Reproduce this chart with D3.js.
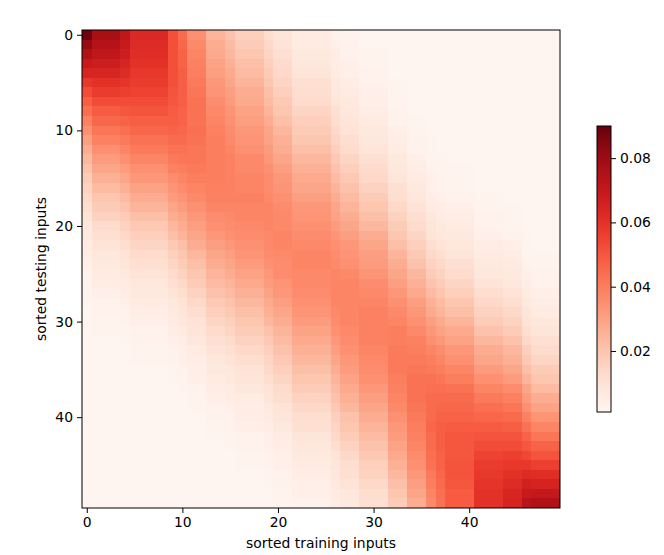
<!DOCTYPE html>
<html>
<head>
<meta charset="utf-8">
<script src="https://cdn.jsdelivr.net/npm/d3@7"></script>
<style>
  body { margin: 0; background: #fff; }
  svg text { font-family: "DejaVu Sans", sans-serif; }
</style>
</head>
<body>
<svg></svg>
<script>
// Attention weights, rows = sorted testing inputs, columns = sorted training inputs
// (values in units of 0.001)
const weights = [
  [88, 77,77,77, 71, 63,63,63,63, 52, 45, 35,35, 25,25, 21, 17,17,17, 12, 9,9, 6,6,6,6, 3, 2,2, 1,1,1, 1,1, 1,1, 1, 1, 1,1,1, 1,1,1, 1,1, 1, 1,1,1],
  [81, 74,74,74, 69, 62,62,62,62, 52, 46, 37,37, 27,27, 23, 18,18,18, 14, 10,10, 6,6,6,6, 4, 3,3, 1,1,1, 1,1, 1,1, 1, 1, 1,1,1, 1,1,1, 1,1, 1, 1,1,1],
  [75, 71,71,71, 67, 61,61,61,61, 52, 47, 38,38, 28,28, 24, 20,20,20, 15, 11,11, 7,7,7,7, 5, 3,3, 2,2,2, 1,1, 1,1, 1, 1, 1,1,1, 1,1,1, 1,1, 1, 1,1,1],
  [69, 67,67,67, 64, 60,60,60,60, 52, 47, 39,39, 30,30, 26, 22,22,22, 17, 13,13, 8,8,8,8, 5, 4,4, 2,2,2, 1,1, 1,1, 1, 1, 1,1,1, 1,1,1, 1,1, 1, 1,1,1],
  [64, 64,64,64, 62, 58,58,58,58, 52, 48, 40,40, 31,31, 28, 23,23,23, 18, 14,14, 9,9,9,9, 6, 4,4, 3,3,3, 1,1, 1,1, 1, 1, 1,1,1, 1,1,1, 1,1, 1, 1,1,1],
  [58, 60,60,60, 59, 57,57,57,57, 52, 48, 41,41, 33,33, 29, 25,25,25, 20, 15,15, 11,11,11,11, 7, 5,5, 3,3,3, 2,2, 1,1, 1, 1, 1,1,1, 1,1,1, 1,1, 1, 1,1,1],
  [53, 57,57,57, 56, 55,55,55,55, 51, 48, 42,42, 34,34, 31, 27,27,27, 22, 17,17, 12,12,12,12, 8, 6,6, 4,4,4, 2,2, 1,1, 1, 1, 1,1,1, 1,1,1, 1,1, 1, 1,1,1],
  [48, 53,53,53, 53, 53,53,53,53, 50, 48, 43,43, 36,36, 32, 28,28,28, 23, 19,19, 13,13,13,13, 9, 7,7, 4,4,4, 2,2, 1,1, 1, 1, 1,1,1, 1,1,1, 1,1, 1, 1,1,1],
  [44, 49,49,49, 50, 51,51,51,51, 49, 47, 43,43, 37,37, 34, 30,30,30, 25, 20,20, 15,15,15,15, 11, 8,8, 5,5,5, 3,3, 1,1, 1, 1, 1,1,1, 1,1,1, 1,1, 1, 1,1,1],
  [39, 46,46,46, 47, 48,48,48,48, 48, 47, 43,43, 38,38, 35, 31,31,31, 27, 22,22, 17,17,17,17, 12, 9,9, 6,6,6, 3,3, 2,2, 1, 1, 1,1,1, 1,1,1, 1,1, 1, 1,1,1],
  [35, 42,42,42, 44, 46,46,46,46, 47, 46, 44,44, 39,39, 36, 33,33,33, 29, 24,24, 18,18,18,18, 14, 10,10, 7,7,7, 4,4, 2,2, 1, 1, 1,1,1, 1,1,1, 1,1, 1, 1,1,1],
  [31, 39,39,39, 41, 43,43,43,43, 45, 45, 43,43, 40,40, 37, 34,34,34, 30, 26,26, 20,20,20,20, 15, 12,12, 8,8,8, 5,5, 3,3, 2, 1, 1,1,1, 1,1,1, 1,1, 1, 1,1,1],
  [27, 35,35,35, 38, 41,41,41,41, 43, 43, 42,42, 40,40, 38, 35,35,35, 32, 27,27, 22,22,22,22, 17, 13,13, 9,9,9, 6,6, 3,3, 2, 1, 1,1,1, 1,1,1, 1,1, 1, 1,1,1],
  [24, 32,32,32, 35, 38,38,38,38, 41, 42, 42,42, 40,40, 39, 37,37,37, 33, 29,29, 24,24,24,24, 19, 15,15, 11,11,11, 7,7, 4,4, 2, 2, 1,1,1, 1,1,1, 1,1, 1, 1,1,1],
  [21, 29,29,29, 32, 35,35,35,35, 39, 40, 41,41, 40,40, 39, 37,37,37, 35, 31,31, 26,26,26,26, 21, 17,17, 13,13,13, 8,8, 5,5, 3, 2, 2,2,2, 1,1,1, 1,1, 1, 1,1,1],
  [18, 26,26,26, 29, 33,33,33,33, 36, 38, 40,40, 40,40, 39, 38,38,38, 36, 33,33, 28,28,28,28, 23, 19,19, 14,14,14, 9,9, 6,6, 4, 3, 2,2,2, 1,1,1, 1,1, 1, 1,1,1],
  [16, 23,23,23, 26, 30,30,30,30, 34, 36, 38,38, 39,39, 39, 38,38,38, 36, 34,34, 29,29,29,29, 25, 21,21, 16,16,16, 11,11, 7,7, 4, 3, 2,2,2, 1,1,1, 1,1, 1, 1,1,1],
  [14, 20,20,20, 23, 27,27,27,27, 32, 34, 37,37, 39,39, 39, 39,39,39, 37, 35,35, 31,31,31,31, 27, 23,23, 18,18,18, 12,12, 8,8, 5, 4, 3,3,3, 2,2,2, 1,1, 1, 1,1,1],
  [12, 18,18,18, 21, 25,25,25,25, 29, 32, 35,35, 38,38, 38, 38,38,38, 38, 36,36, 33,33,33,33, 29, 25,25, 20,20,20, 14,14, 10,10, 6, 5, 4,4,4, 2,2,2, 2,2, 1, 1,1,1],
  [10, 16,16,16, 18, 22,22,22,22, 27, 29, 33,33, 36,36, 37, 38,38,38, 38, 37,37, 34,34,34,34, 30, 27,27, 22,22,22, 16,16, 11,11, 8, 6, 5,5,5, 3,3,3, 2,2, 1, 1,1,1],
  [8, 13,13,13, 16, 19,19,19,19, 24, 27, 31,31, 35,35, 36, 37,37,37, 38, 37,37, 35,35,35,35, 32, 29,29, 24,24,24, 18,18, 13,13, 9, 7, 6,6,6, 3,3,3, 2,2, 1, 1,1,1],
  [7, 11,11,11, 14, 17,17,17,17, 22, 25, 29,29, 33,33, 35, 36,36,36, 37, 38,38, 36,36,36,36, 34, 31,31, 27,27,27, 20,20, 15,15, 10, 8, 7,7,7, 4,4,4, 3,3, 2, 1,1,1],
  [6, 10,10,10, 12, 15,15,15,15, 19, 22, 27,27, 31,31, 33, 35,35,35, 37, 38,38, 37,37,37,37, 35, 33,33, 29,29,29, 22,22, 17,17, 12, 10, 8,8,8, 5,5,5, 4,4, 2, 1,1,1],
  [5, 8,8,8, 10, 13,13,13,13, 17, 20, 24,24, 29,29, 31, 34,34,34, 36, 37,37, 38,38,38,38, 36, 34,34, 31,31,31, 25,25, 19,19, 14, 12, 9,9,9, 6,6,6, 5,5, 2, 2,2,2],
  [4, 7,7,7, 9, 11,11,11,11, 15, 18, 22,22, 27,27, 29, 32,32,32, 35, 36,36, 38,38,38,38, 37, 35,35, 32,32,32, 27,27, 21,21, 16, 14, 11,11,11, 7,7,7, 6,6, 3, 2,2,2],
  [3, 6,6,6, 7, 10,10,10,10, 13, 16, 20,20, 25,25, 27, 30,30,30, 33, 36,36, 37,37,37,37, 38, 37,37, 34,34,34, 29,29, 24,24, 18, 16, 13,13,13, 8,8,8, 7,7, 4, 3,3,3],
  [2, 5,5,5, 6, 8,8,8,8, 11, 14, 18,18, 23,23, 25, 28,28,28, 32, 34,34, 37,37,37,37, 38, 38,38, 36,36,36, 31,31, 26,26, 21, 18, 15,15,15, 10,10,10, 8,8, 5, 3,3,3],
  [2, 4,4,4, 5, 7,7,7,7, 10, 12, 16,16, 21,21, 23, 26,26,26, 30, 33,33, 36,36,36,36, 38, 38,38, 37,37,37, 33,33, 28,28, 23, 20, 17,17,17, 12,12,12, 10,10, 6, 4,4,4],
  [2, 3,3,3, 4, 6,6,6,6, 8, 10, 14,14, 19,19, 21, 24,24,24, 28, 31,31, 35,35,35,35, 38, 38,38, 38,38,38, 35,35, 31,31, 26, 23, 20,20,20, 14,14,14, 12,12, 7, 5,5,5],
  [1, 3,3,3, 3, 5,5,5,5, 7, 9, 12,12, 17,17, 19, 22,22,22, 26, 29,29, 34,34,34,34, 37, 38,38, 39,39,39, 37,37, 33,33, 28, 25, 22,22,22, 16,16,16, 14,14, 9, 6,6,6],
  [1, 2,2,2, 3, 4,4,4,4, 6, 8, 10,10, 15,15, 17, 20,20,20, 24, 27,27, 32,32,32,32, 36, 38,38, 39,39,39, 38,38, 35,35, 31, 28, 25,25,25, 18,18,18, 16,16, 10, 8,8,8],
  [1, 2,2,2, 2, 3,3,3,3, 5, 6, 9,9, 13,13, 15, 18,18,18, 21, 25,25, 30,30,30,30, 35, 37,37, 39,39,39, 40,40, 37,37, 33, 30, 28,28,28, 21,21,21, 18,18, 12, 9,9,9],
  [1, 1,1,1, 2, 3,3,3,3, 4, 5, 8,8, 11,11, 13, 16,16,16, 19, 23,23, 28,28,28,28, 33, 36,36, 39,39,39, 40,40, 39,39, 35, 33, 30,30,30, 24,24,24, 21,21, 14, 11,11,11],
  [1, 1,1,1, 1, 2,2,2,2, 3, 4, 6,6, 10,10, 11, 14,14,14, 17, 21,21, 26,26,26,26, 31, 35,35, 38,38,38, 41,41, 40,40, 38, 36, 33,33,33, 27,27,27, 24,24, 17, 13,13,13],
  [1, 1,1,1, 1, 2,2,2,2, 3, 4, 5,5, 8,8, 10, 12,12,12, 15, 19,19, 24,24,24,24, 29, 33,33, 37,37,37, 41,41, 41,41, 40, 38, 35,35,35, 29,29,29, 26,26, 19, 15,15,15],
  [1, 1,1,1, 1, 1,1,1,1, 2, 3, 4,4, 7,7, 8, 10,10,10, 14, 17,17, 22,22,22,22, 27, 32,32, 36,36,36, 41,41, 42,42, 41, 40, 38,38,38, 32,32,32, 29,29, 22, 18,18,18],
  [1, 1,1,1, 1, 1,1,1,1, 2, 2, 4,4, 6,6, 7, 9,9,9, 12, 15,15, 20,20,20,20, 25, 30,30, 35,35,35, 40,40, 43,43, 43, 42, 40,40,40, 35,35,35, 32,32, 25, 20,20,20],
  [1, 1,1,1, 1, 1,1,1,1, 1, 2, 3,3, 5,5, 6, 8,8,8, 10, 13,13, 18,18,18,18, 23, 28,28, 33,33,33, 39,39, 43,43, 44, 44, 43,43,43, 38,38,38, 36,36, 29, 23,23,23],
  [1, 1,1,1, 1, 1,1,1,1, 1, 1, 2,2, 4,4, 5, 6,6,6, 9, 12,12, 16,16,16,16, 21, 26,26, 31,31,31, 38,38, 43,43, 45, 45, 45,45,45, 41,41,41, 39,39, 32, 27,27,27],
  [1, 1,1,1, 1, 1,1,1,1, 1, 1, 2,2, 3,3, 4, 5,5,5, 7, 10,10, 14,14,14,14, 19, 24,24, 29,29,29, 37,37, 42,42, 45, 46, 46,46,46, 44,44,44, 42,42, 35, 30,30,30],
  [1, 1,1,1, 1, 1,1,1,1, 1, 1, 1,1, 3,3, 3, 5,5,5, 6, 9,9, 12,12,12,12, 17, 21,21, 27,27,27, 35,35, 41,41, 45, 47, 47,47,47, 46,46,46, 45,45, 39, 34,34,34],
  [1, 1,1,1, 1, 1,1,1,1, 1, 1, 1,1, 2,2, 3, 4,4,4, 5, 7,7, 11,11,11,11, 15, 20,20, 25,25,25, 33,33, 40,40, 46, 48, 49,49,49, 49,49,49, 48,48, 43, 38,38,38],
  [1, 1,1,1, 1, 1,1,1,1, 1, 1, 1,1, 2,2, 2, 3,3,3, 4, 6,6, 9,9,9,9, 14, 18,18, 23,23,23, 32,32, 39,39, 45, 48, 50,50,50, 51,51,51, 51,51, 47, 42,42,42],
  [1, 1,1,1, 1, 1,1,1,1, 1, 1, 1,1, 1,1, 2, 3,3,3, 4, 5,5, 8,8,8,8, 12, 16,16, 21,21,21, 30,30, 38,38, 45, 48, 50,50,50, 53,53,53, 53,53, 50, 47,47,47],
  [1, 1,1,1, 1, 1,1,1,1, 1, 1, 1,1, 1,1, 1, 2,2,2, 3, 4,4, 7,7,7,7, 10, 14,14, 19,19,19, 28,28, 36,36, 44, 47, 50,50,50, 55,55,55, 56,56, 54, 51,51,51],
  [1, 1,1,1, 1, 1,1,1,1, 1, 1, 1,1, 1,1, 1, 2,2,2, 3, 4,4, 6,6,6,6, 9, 12,12, 17,17,17, 26,26, 35,35, 43, 47, 51,51,51, 57,57,57, 58,58, 58, 56,56,56],
  [1, 1,1,1, 1, 1,1,1,1, 1, 1, 1,1, 1,1, 1, 1,1,1, 2, 3,3, 5,5,5,5, 8, 11,11, 16,16,16, 24,24, 33,33, 41, 46, 51,51,51, 58,58,58, 60,60, 62, 61,61,61],
  [1, 1,1,1, 1, 1,1,1,1, 1, 1, 1,1, 1,1, 1, 1,1,1, 2, 3,3, 4,4,4,4, 7, 10,10, 14,14,14, 22,22, 31,31, 40, 45, 50,50,50, 59,59,59, 62,62, 66, 65,65,65],
  [1, 1,1,1, 1, 1,1,1,1, 1, 1, 1,1, 1,1, 1, 1,1,1, 1, 2,2, 4,4,4,4, 6, 8,8, 12,12,12, 20,20, 29,29, 38, 44, 49,49,49, 60,60,60, 64,64, 69, 70,70,70],
  [1, 1,1,1, 1, 1,1,1,1, 1, 1, 1,1, 1,1, 1, 1,1,1, 1, 2,2, 3,3,3,3, 5, 7,7, 11,11,11, 18,18, 27,27, 37, 43, 49,49,49, 60,60,60, 65,65, 73, 75,75,75]
];

// Tick values and labels
const colTicks = [0, 10, 20, 30, 40];
const rowTicks = [0, 10, 20, 30, 40];
const colorTicks = [0.02, 0.04, 0.06, 0.08];
const colorDomain = [0.001, 0.090];
const xLabel = "sorted training inputs";
const yLabel = "sorted testing inputs";

// Set dimensions of the figure
const svgWidth = 664;
const svgHeight = 555;
const plot = { left: 82, top: 30, size: 478 };
const bar = { left: 597, top: 126, width: 14, height: 286 };
const fontSize = "13.9px";

const svg = d3.select("svg")
    .attr("width", svgWidth)
    .attr("height", svgHeight);

const nRows = weights.length;
const nCols = weights[0].length;

// Scales: cell centres sit on integer positions like imshow
const x = d3.scaleLinear().domain([-0.5, nCols - 0.5]).range([plot.left, plot.left + plot.size]);
const y = d3.scaleLinear().domain([-0.5, nRows - 0.5]).range([plot.top, plot.top + plot.size]);
const color = d3.scaleSequential(d3.interpolateReds).domain(colorDomain).clamp(true);

// Flatten the matrix into cells
const cells = [];
weights.forEach((row, i) => row.forEach((v, j) => cells.push({ i, j, value: v / 1000 })));

svg.append("g")
    .selectAll("rect")
    .data(cells)
    .enter()
    .append("rect")
    .attr("x", d => x(d.j - 0.5))
    .attr("y", d => y(d.i - 0.5))
    .attr("width", x(1) - x(0) + 0.3)
    .attr("height", y(1) - y(0) + 0.3)
    .attr("shape-rendering", "crispEdges")
    .style("fill", d => color(d.value));

// Frame around the image
svg.append("rect")
    .attr("x", plot.left)
    .attr("y", plot.top)
    .attr("width", plot.size)
    .attr("height", plot.size)
    .style("fill", "none")
    .style("stroke", "black")
    .style("stroke-width", 1);

// Axes
const xAxis = svg.append("g")
    .attr("transform", `translate(0,${plot.top + plot.size})`)
    .call(d3.axisBottom(x).tickValues(colTicks).tickSize(5).tickSizeOuter(0).tickPadding(4));

const yAxis = svg.append("g")
    .attr("transform", `translate(${plot.left},0)`)
    .call(d3.axisLeft(y).tickValues(rowTicks).tickSize(5).tickSizeOuter(0).tickPadding(4));

[xAxis, yAxis].forEach(g => {
    g.select(".domain").remove();
    g.selectAll("text").style("font-size", fontSize).style("fill", "black");
    g.selectAll("line").style("stroke", "black");
});

// Axis labels
svg.append("text")
    .attr("x", plot.left + plot.size / 2)
    .attr("y", 548)
    .attr("text-anchor", "middle")
    .style("font-size", fontSize)
    .text(xLabel);

svg.append("text")
    .attr("transform", `translate(46,${plot.top + plot.size / 2}) rotate(-90)`)
    .attr("text-anchor", "middle")
    .style("font-size", fontSize)
    .text(yLabel);

// Colorbar
const cbar = d3.scaleLinear().domain(colorDomain).range([bar.top + bar.height, bar.top]);

const grad = svg.append("defs")
    .append("linearGradient")
    .attr("id", "cbGrad")
    .attr("x1", 0).attr("y1", 1)
    .attr("x2", 0).attr("y2", 0);

grad.selectAll("stop")
    .data(d3.range(0, 1.0001, 0.05))
    .enter()
    .append("stop")
    .attr("offset", d => d)
    .attr("stop-color", d => d3.interpolateReds(d));

svg.append("rect")
    .attr("x", bar.left)
    .attr("y", bar.top)
    .attr("width", bar.width)
    .attr("height", bar.height)
    .style("fill", "url(#cbGrad)")
    .style("stroke", "black")
    .style("stroke-width", 1);

const cAxis = svg.append("g")
    .attr("transform", `translate(${bar.left + bar.width},0)`)
    .call(d3.axisRight(cbar).tickValues(colorTicks).tickFormat(d3.format(".2f")).tickSize(5).tickSizeOuter(0).tickPadding(4));

cAxis.select(".domain").remove();
cAxis.selectAll("text").style("font-size", fontSize).style("fill", "black");
cAxis.selectAll("line").style("stroke", "black");
</script>
</body>
</html>
